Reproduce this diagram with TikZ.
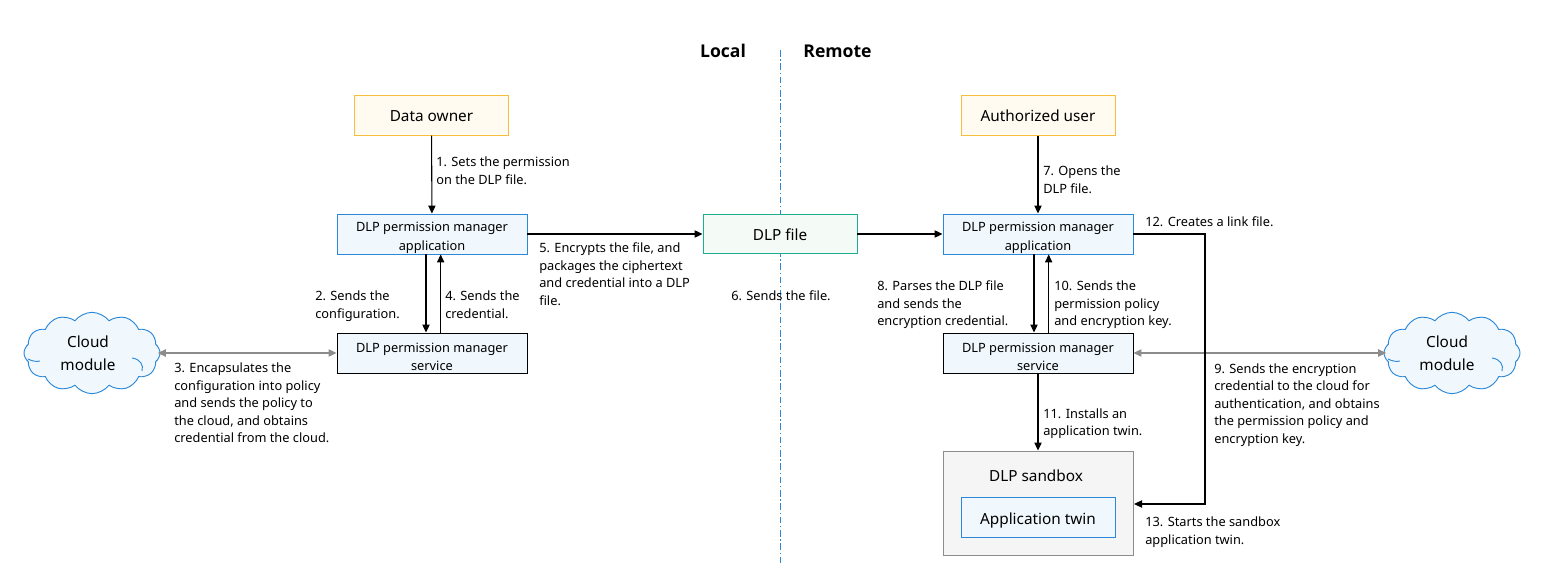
\documentclass[tikz,border=0pt]{standalone}
\usepackage{fontspec}
\setmainfont{Noto Sans}
\newfontfamily\sidefont{Open Sans}
\usepackage{xcolor}
\usetikzlibrary{arrows.meta, positioning, calc}
\usetikzlibrary{shapes.symbols}
\definecolor{userline}{HTML}{F5BE3C}
\definecolor{userfill}{HTML}{FFFBF1}
\definecolor{appline}{HTML}{2B88D8}
\definecolor{appfill}{HTML}{F0F8FE}
\definecolor{fileline}{HTML}{1FAD8F}
\definecolor{filefill}{HTML}{F4FAF6}
\newcommand{\boxpad}{\rule{0pt}{12.5pt}}
\tikzset{
  userbox/.style={draw=userline, fill=userfill, line width=0.7pt, minimum width=115.5pt, minimum height=29.5pt, inner sep=0pt, font=\fontsize{11.5}{14}\selectfont},
  appbox/.style={draw=appline, fill=appfill, line width=0.7pt, minimum width=142.5pt, minimum height=30pt, inner sep=0pt, align=center, font=\fontsize{9.6}{13.9}\selectfont},
  servicebox/.style={appbox, draw=black},
  filebox/.style={userbox, draw=fileline, fill=filefill},
  cloudbox/.style={cloud, cloud puffs=12, cloud puff arc=105, aspect=1.7, draw=appline, fill=appfill, line width=0.7pt, minimum width=102pt, minimum height=61pt, inner sep=0pt},
  cloudname/.style={align=center, inner sep=0pt, font=\fontsize{11.5}{17}\selectfont},
  flow/.style={-{Triangle[length=6pt,width=5.5pt]}, line width=0.8pt},
  cloudflow/.style={{Triangle[length=6pt,width=5.5pt]}-{Triangle[length=6pt,width=5.5pt]}, line width=0.8pt, draw=gray!90, color=gray!90},
  steplabel/.style={anchor=west, align=left, inner sep=0pt, font=\fontsize{9.6}{13.2}\selectfont},
  sidelabel/.style={font=\sidefont\bfseries\fontsize{13.2}{15}\selectfont, inner sep=0pt}
}
\begin{document}
\begin{tikzpicture}[x=0.75pt, y=-0.75pt]
\useasboundingbox (0,0) rectangle (1542,566);
% Local / remote divider
\coordinate (divtop) at (780,50);
\coordinate (divbot) at (780,565);
\draw[appline, line width=0.7pt, dash pattern=on 5pt off 2pt on 1pt off 2pt] (divtop) -- (divbot);
\node[sidelabel] (local) at (723,51) {Local};
\node[sidelabel] (remote) at (837.5,51) {Remote};
% Local side
\node[userbox] (owner) at (431.5,115.5) {\rule{0pt}{9.5pt}Data owner};
\node[appbox] (applocal) at (432,234) {\boxpad DLP permission manager\\application};
\node[servicebox] (servlocal) at (432,353) {\boxpad DLP permission manager\\service};
\node[cloudbox] (cloudlocal) at (92,353) {};
\node[cloudname] (cloudlocaltext) at (88,353) {Cloud\\module};
% File in the middle
\node[filebox] (file) at (780,234) {\rule{0pt}{10pt}DLP file};
% Remote side
\node[userbox] (user) at (1038,115.5) {Authorized user};
\node[appbox] (appremote) at (1038,234) {\boxpad DLP permission manager\\application};
\node[servicebox] (servremote) at (1038,353) {\boxpad DLP permission manager\\service};
\node[cloudbox] (cloudremote) at (1452,353) {};
\node[cloudname] (cloudremotetext) at (1447,353) {Cloud\\module};
% Inner creases of both clouds
\foreach \c in {cloudlocal,cloudremote} {
  \begin{scope}[shift={(\c.center)}]
    \draw[appline, line width=0.7pt] (40,5) .. controls (48,6) and (52,12) .. (50,18);
    \draw[appline, line width=0.7pt] (-64,6) .. controls (-60,8) and (-56,9) .. (-52,8);
  \end{scope}
}
% Sandbox
\node[draw=gray!90, fill=gray!8, line width=0.7pt, minimum width=142.5pt, minimum height=78pt] (sandbox) at (1038,503) {};
\node[font=\fontsize{11.5}{14}\selectfont, inner sep=0pt] (sandboxname) at (1036,476) {DLP sandbox};
\node[userbox, draw=appline, fill=appfill] (twin) at (1038,517.5) {\rule{0pt}{13pt}Application twin};
% Connectors
\draw[flow] (owner) -- (applocal);
\draw[flow] ([xshift=-4.5pt]applocal.south) -- ([xshift=-4.5pt]servlocal.north);
\draw[flow] ([xshift=6.5pt]servlocal.north) -- ([xshift=6.5pt]applocal.south);
\draw[cloudflow] (servlocal.west) -- ($(cloudlocal.east)+(-2pt,0)$);
\draw[flow] (applocal) -- (file);
\draw[flow] (file) -- (appremote);
\draw[flow] (user) -- (appremote);
\draw[flow] ([xshift=-3pt]appremote.south) -- ([xshift=-3pt]servremote.north);
\draw[flow] ([xshift=8pt]servremote.north) -- ([xshift=8pt]appremote.south);
\draw[cloudflow] (servremote.east) -- ($(cloudremote.west)+(2pt,0)$);
\draw[flow] (servremote) -- (sandbox);
\coordinate (corner) at (1205,234);
\coordinate (sandboxin) at (1134,504);
\draw[flow] (appremote.east) -- (corner) -- (corner |- sandboxin) -- (sandboxin);
% Step labels
\node[steplabel] (s1) at (436,171) {1. Sets the permission\\on the DLP file.};
\node[steplabel] (s2) at (315,306) {2. Sends the\\configuration.};
\node[steplabel] (s3) at (174,403) {3. Encapsulates the\\configuration into policy\\and sends the policy to\\the cloud, and obtains\\credential from the cloud.};
\node[steplabel] (s4) at (445,304.5) {4. Sends the\\credential.};
\node[steplabel] (s5) at (539,274) {5. Encrypts the file, and\\packages the ciphertext\\and credential into a DLP\\file.};
\node[steplabel] (s6) at (731,296) {6. Sends the file.};
\node[steplabel] (s7) at (1043,180) {7. Opens the\\DLP file.};
\node[steplabel] (s8) at (877,305) {8. Parses the DLP file\\and sends the\\encryption credential.};
\node[steplabel] (s9) at (1214,405) {9. Sends the encryption\\credential to the cloud for\\authentication, and obtains\\the permission policy and\\encryption key.};
\node[steplabel] (s10) at (1054,305) {10. Sends the\\permission policy\\and encryption key.};
\node[steplabel] (s11) at (1043,423.5) {11. Installs an\\application twin.};
\node[steplabel] (s12) at (1145,222) {12. Creates a link file.};
\node[steplabel] (s13) at (1145,532) {13. Starts the sandbox\\application twin.};
\end{tikzpicture}
\end{document}
